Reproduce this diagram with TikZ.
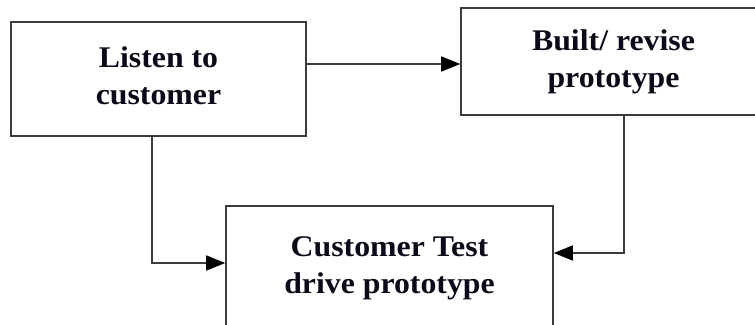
\documentclass[tikz,border=0pt]{standalone}
\usepackage{fontspec}
\setmainfont{Liberation Serif}[FakeStretch=1.06]
\usetikzlibrary{arrows.meta}
\definecolor{linec}{RGB}{60,60,60}
\definecolor{txtc}{RGB}{10,10,25}
\begin{document}
\begin{tikzpicture}[x=1pt,y=1pt,
  box/.style={draw=linec, line width=1.6pt, fill=white, inner sep=0pt,
    align=center, text=txtc, font=\fontsize{30}{37}\selectfont\bfseries},
  conn/.style={draw=linec, line width=1.6pt,
    -{Triangle[length=19pt,width=15pt,color=black]}}]
\useasboundingbox (0,0) rectangle (755,-324);
\clip (0,0) rectangle (755,-324);
\fill[white] (0,0) rectangle (755,-324);
\node[box, minimum width=295pt, minimum height=114pt] (b1) at (158.5,-79)
  {\raisebox{6pt}{\begin{tabular}{@{}c@{}}Listen to\\customer\end{tabular}}};
\node[box, minimum width=305pt, minimum height=107pt] (b2) at (613.5,-61.5)
  {Built/ revise\\prototype};
\node[box, minimum width=327pt, minimum height=124pt] (b3) at (389.5,-268)
  {\raisebox{6pt}{\begin{tabular}{@{}c@{}}Customer Test\\drive prototype\end{tabular}}};
\draw[conn] ([yshift=15pt]b1.east) -- ([yshift=15pt]b1.east -| b2.west);
\draw[conn] ([xshift=-6.5pt]b1.south) |- (b3.west |- 0,-263);
\draw[conn] ([xshift=10.5pt]b2.south) |- (b3.east |- 0,-253);
\end{tikzpicture}
\end{document}
